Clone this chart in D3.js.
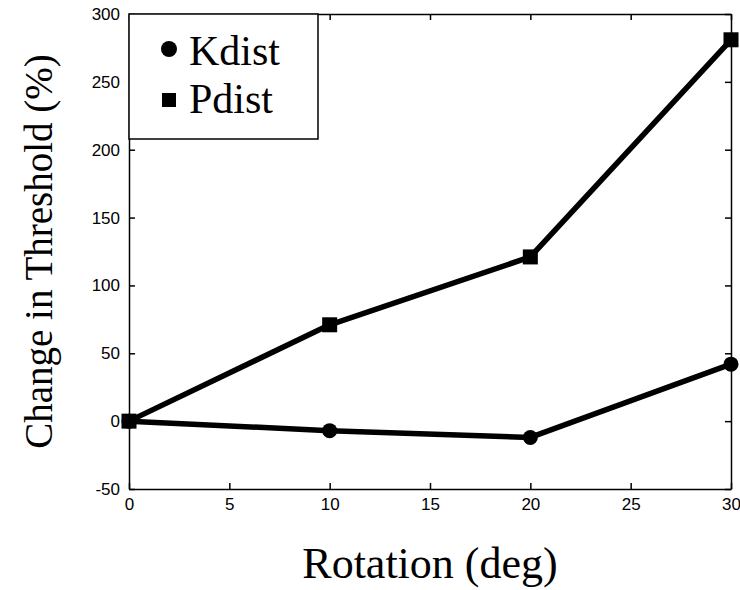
<!DOCTYPE html>
<html>
<head>
<meta charset="utf-8">
<script src="https://cdn.jsdelivr.net/npm/d3@7"></script>
<style>
  body { margin: 0; background: #fff; }
</style>
</head>
<body>
<div id="chart"></div>
<script>
// data
const rotation = [0, 10, 20, 30];
const kdist = [0, -7, -12, 42];
const pdist = [0, 71, 121, 281];
const xTicks = [0, 5, 10, 15, 20, 25, 30];
const yTicks = [-50, 0, 50, 100, 150, 200, 250, 300];

const width = 740, height = 590;
const margin = {top: 14, right: 9, bottom: 101, left: 129};
const serif = '"Liberation Serif", "Times New Roman", serif';

const svg = d3.select('#chart').append('svg')
    .attr('width', width)
    .attr('height', height);

const x = d3.scaleLinear().domain([0, 30]).range([margin.left, width - margin.right]);
const y = d3.scaleLinear().domain([-50, 300]).range([height - margin.bottom, margin.top]);

const fmt = d => String(d);  // plain hyphen minus like the original

// box with inward ticks on all four sides
svg.append('g').attr('transform', `translate(0,${y(-50)})`)
    .call(d3.axisBottom(x).tickValues(xTicks).tickFormat(fmt).tickSizeInner(-6).tickSizeOuter(0).tickPadding(9));
svg.append('g').attr('transform', `translate(0,${y(300)})`)
    .call(d3.axisTop(x).tickValues(xTicks).tickSizeInner(-6).tickSizeOuter(0).tickFormat(''));
svg.append('g').attr('transform', `translate(${x(0)},0)`)
    .call(d3.axisLeft(y).tickValues(yTicks).tickFormat(fmt).tickSizeInner(-6).tickSizeOuter(0).tickPadding(9));
svg.append('g').attr('transform', `translate(${x(30)},0)`)
    .call(d3.axisRight(y).tickValues(yTicks).tickSizeInner(-6).tickSizeOuter(0).tickFormat(''));
svg.selectAll('.domain, .tick line').attr('stroke', '#000').attr('stroke-width', 1.5);
svg.selectAll('.tick text')
    .style('font-family', '"Liberation Sans", Arial, sans-serif')
    .style('font-size', '17px')
    .attr('fill', '#000');

const line = d3.line().x((d, i) => x(rotation[i])).y(d => y(d));

[kdist, pdist].forEach(s => {
  svg.append('path').datum(s)
      .attr('d', line)
      .attr('fill', 'none')
      .attr('stroke', '#000')
      .attr('stroke-width', 5.5)
      .attr('stroke-linejoin', 'round');
});

svg.selectAll('circle.k').data(kdist).enter().append('circle')
    .attr('cx', (d, i) => x(rotation[i]))
    .attr('cy', d => y(d))
    .attr('r', 7.5)
    .attr('fill', '#000');

svg.selectAll('rect.p').data(pdist).enter().append('rect')
    .attr('x', (d, i) => x(rotation[i]) - 7.5)
    .attr('y', d => y(d) - 7.5)
    .attr('width', 15)
    .attr('height', 15)
    .attr('fill', '#000');

// legend
const leg = svg.append('g');
leg.append('rect')
    .attr('x', x(0)).attr('y', y(300))
    .attr('width', 189).attr('height', 125)
    .attr('fill', '#fff').attr('stroke', '#000').attr('stroke-width', 1.5);
leg.append('circle').attr('cx', 169).attr('cy', 49).attr('r', 8).attr('fill', '#000');
leg.append('rect').attr('x', 162).attr('y', 93).attr('width', 14).attr('height', 14).attr('fill', '#000');
leg.append('text').attr('x', 189).attr('y', 65).text('Kdist')
    .style('font-family', serif).style('font-size', '42px');
leg.append('text').attr('x', 189).attr('y', 113).text('Pdist')
    .style('font-family', serif).style('font-size', '42px');

// axis titles
svg.append('text')
    .attr('x', (x(0) + x(30)) / 2)
    .attr('y', 578)
    .attr('text-anchor', 'middle')
    .style('font-family', serif)
    .style('font-size', '44px')
    .text('Rotation (deg)');
svg.append('text')
    .attr('transform', `translate(52,${(y(300) + y(-50)) / 2}) rotate(-90)`)
    .attr('text-anchor', 'middle')
    .style('font-family', serif)
    .style('font-size', '39px')
    .text('Change in Threshold (%)');
</script>
</body>
</html>
